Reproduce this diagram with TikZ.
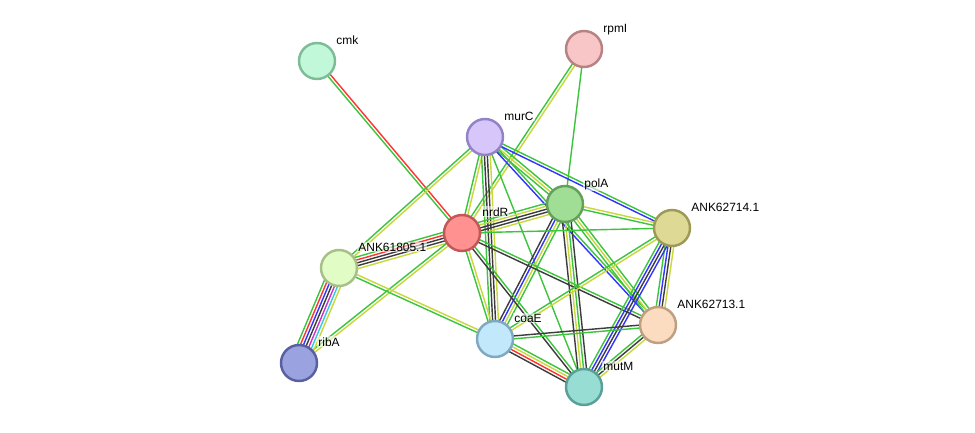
\documentclass[tikz,border=0pt]{standalone}
\usepackage{fontspec}
\setmainfont{Liberation Sans}
\usepackage{xcolor}
\definecolor{egreen}{RGB}{61,196,61}
\definecolor{etext}{RGB}{199,216,58}
\definecolor{eblack}{RGB}{60,60,60}
\definecolor{ered}{RGB}{255,51,51}
\definecolor{eblue}{RGB}{51,51,255}
\definecolor{emagenta}{RGB}{204,51,204}
\definecolor{ecyan}{RGB}{51,204,220}
\usetikzlibrary{calc,backgrounds}
\newcommand{\lnk}[3]{%
  \foreach \c [count=\i] in {#3} {\xdef\nlnk{\i}}%
  \foreach \c [count=\i] in {#3} {%
    \pgfmathsetmacro\off{(\i-(\nlnk+1)/2)*1.65}%
    \draw[edge, \c] ($(#1)!\off pt!90:(#2)$) -- ($(#2)!\off pt!-90:(#1)$);}}
\tikzset{
  prot/.style={circle, draw, line width=1.4pt, minimum size=0.72cm, inner sep=0pt},
  edge/.style={line width=0.8pt},
  lbl/.style={anchor=base west, inner sep=0.6pt, fill=white, fill opacity=0.55, text opacity=1, font=\fontsize{6.8pt}{8pt}\selectfont}
}

\begin{document}
\begin{tikzpicture}[x=0.02cm, y=-0.02cm]
  \useasboundingbox (0,0) rectangle (975,433);
  \node[prot, fill={rgb,255:red,194;green,248;blue,218}, draw={rgb,255:red,126;green,188;blue,150}] (cmk) at (317,61) {};
  \node[prot, fill={rgb,255:red,248;green,198;blue,198}, draw={rgb,255:red,184;green,130;blue,130}] (rpmI) at (584,49) {};
  \node[prot, fill={rgb,255:red,214;green,198;blue,250}, draw={rgb,255:red,148;green,130;blue,200}] (murC) at (485,137) {};
  \node[prot, fill={rgb,255:red,160;green,222;blue,150}, draw={rgb,255:red,100;green,160;blue,92}] (polA) at (565,204) {};
  \node[prot, fill={rgb,255:red,255;green,145;blue,145}, draw={rgb,255:red,192;green,88;blue,88}] (nrdR) at (462,233) {};
  \node[prot, fill={rgb,255:red,222;green,218;blue,150}, draw={rgb,255:red,158;green,154;blue,86}] (ank14) at (672,228) {};
  \node[prot, fill={rgb,255:red,226;green,252;blue,198}, draw={rgb,255:red,166;green,192;blue,136}] (ank05) at (339,268) {};
  \node[prot, fill={rgb,255:red,154;green,162;blue,224}, draw={rgb,255:red,88;green,96;blue,160}] (ribA) at (299,363) {};
  \node[prot, fill={rgb,255:red,194;green,232;blue,252}, draw={rgb,255:red,128;green,168;blue,192}] (coaE) at (495,339) {};
  \node[prot, fill={rgb,255:red,252;green,220;blue,192}, draw={rgb,255:red,188;green,160;blue,128}] (ank13) at (658,325) {};
  \node[prot, fill={rgb,255:red,152;green,221;blue,212}, draw={rgb,255:red,88;green,160;blue,152}] (mutM) at (584,387) {};
  \node[lbl] (cmk-t) at ($(cmk)+(18,-17)$) {cmk};
  \node[lbl] (rpmI-t) at ($(rpmI)+(18,-17)$) {rpmI};
  \node[lbl] (murC-t) at ($(murC)+(18,-17)$) {murC};
  \node[lbl] (polA-t) at ($(polA)+(18,-17)$) {polA};
  \node[lbl] (nrdR-t) at ($(nrdR)+(19,-17)$) {nrdR};
  \node[lbl] (ank14-t) at ($(ank14)+(18,-17)$) {ANK62714.1};
  \node[lbl] (ank05-t) at ($(ank05)+(18,-17)$) {ANK61805.1};
  \node[lbl] (ribA-t) at ($(ribA)+(18,-17)$) {ribA};
  \node[lbl] (coaE-t) at ($(coaE)+(18,-17)$) {coaE};
  \node[lbl] (ank13-t) at ($(ank13)+(18,-17)$) {ANK62713.1};
  \node[lbl] (mutM-t) at ($(mutM)+(18,-17)$) {mutM};
  \begin{scope}[on background layer]
    \fill[white] (0,0) rectangle (975,433);
    \lnk{cmk}{nrdR}{egreen,ered}
    \lnk{rpmI}{nrdR}{egreen,etext}
    \lnk{rpmI}{polA}{egreen}
    \lnk{murC}{nrdR}{egreen,etext}
    \lnk{murC}{coaE}{egreen,eblack,eblack,etext}
    \lnk{murC}{ank05}{egreen,etext}
    \lnk{murC}{polA}{egreen,etext,egreen}
    \lnk{murC}{ank14}{eblue,egreen}
    \lnk{murC}{ank13}{eblue,egreen}
    \lnk{murC}{mutM}{egreen}
    \lnk{polA}{nrdR}{egreen,etext,eblack,eblack,etext}
    \lnk{polA}{ank14}{egreen,etext}
    \lnk{polA}{ank13}{egreen,etext,egreen}
    \lnk{polA}{coaE}{eblack,eblue,etext,egreen}
    \lnk{polA}{mutM}{eblack,etext,egreen,eblack}
    \lnk{nrdR}{ank14}{egreen}
    \lnk{nrdR}{ank05}{egreen,ered,eblack,eblack,etext}
    \lnk{nrdR}{ribA}{egreen,etext}
    \lnk{nrdR}{coaE}{egreen,etext}
    \lnk{nrdR}{mutM}{eblack,egreen}
    \lnk{nrdR}{ank13}{eblack,egreen}
    \lnk{ank05}{ribA}{egreen,ered,eblue,eblack,emagenta,ecyan,etext}
    \lnk{ank05}{coaE}{egreen,etext}
    \lnk{ank14}{ank13}{egreen,eblue,eblack,etext}
    \lnk{ank14}{mutM}{egreen,eblue,eblack,eblue}
    \lnk{ank14}{coaE}{egreen,etext}
    \lnk{coaE}{ank13}{egreen,eblack}
    \lnk{coaE}{mutM}{eblack,ered,etext,egreen}
    \lnk{ank13}{mutM}{egreen,eblack,etext}
  \end{scope}
\end{tikzpicture}
\end{document}
